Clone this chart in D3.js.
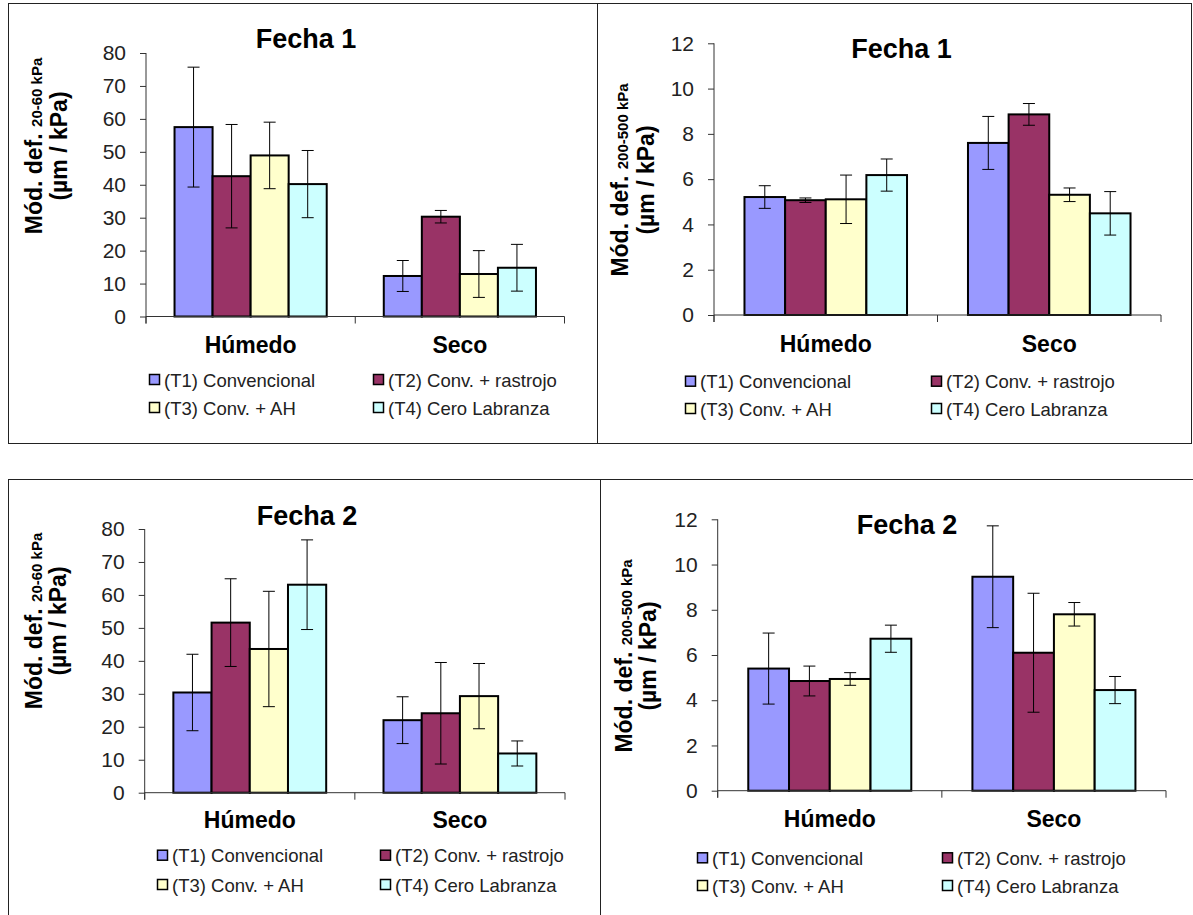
<!DOCTYPE html>
<html>
<head>
<meta charset="utf-8">
<script src="https://cdn.jsdelivr.net/npm/d3@7"></script>
<style>
  body { margin: 0; background: #fff; }
  svg { display: block; font-family: Arial, "Liberation Sans", sans-serif; }
</style>
</head>
<body>
<svg id="chart" width="1193" height="915"></svg>
<script>
// categories
var conditions = ["Húmedo", "Seco"];
var treatments = ["(T1) Convencional", "(T2) Conv. + rastrojo", "(T3) Conv. + AH", "(T4) Cero Labranza"];
var colors = ["#9999ff", "#993366", "#ffffcc", "#ccffff"];

// values [condition][treatment]
var fecha1Low = [[57.5, 42.6, 48.9, 40.2], [12.3, 30.3, 12.9, 14.8]];
var fecha1LowErr = [[18.2, 15.7, 10.1, 10.2], [4.7, 1.9, 7.1, 7.1]];
var fecha1High = [[5.21, 5.07, 5.11, 6.18], [7.6, 8.86, 5.31, 4.49]];
var fecha1HighErr = [[0.5, 0.1, 1.07, 0.71], [1.17, 0.48, 0.3, 0.96]];
var fecha2Low = [[30.4, 51.6, 43.6, 63.1], [22.0, 24.1, 29.3, 11.9]];
var fecha2LowErr = [[11.6, 13.3, 17.5, 13.6], [7.1, 15.4, 9.9, 3.8]];
var fecha2High = [[5.4, 4.85, 4.94, 6.72], [9.46, 6.1, 7.8, 4.45]];
var fecha2HighErr = [[1.57, 0.66, 0.28, 0.6], [2.25, 2.63, 0.52, 0.6]];

// tick labels
var ticksLow = [0, 10, 20, 30, 40, 50, 60, 70, 80];
var ticksHigh = [0, 2, 4, 6, 8, 10, 12];

var panels = [
  { title: "Fecha 1", sub: "20-60 kPa", values: fecha1Low, errors: fecha1LowErr, ticks: ticksLow,
    box: [8, 3, 589, 440], x0: 146, x1: 564.5, y0: 316.5, yTop: 53,
    tx: 306, ty: 48, labCy: 146, labX1: 42, labX2: 67, catY: 353, legX: [149, 373], legY: [380, 408] },
  { title: "Fecha 1", sub: "200-500 kPa", values: fecha1High, errors: fecha1HighErr, ticks: ticksHigh,
    box: [597, 3, 594, 440], x0: 714, x1: 1161, y0: 315, yTop: 43.3,
    tx: 901.5, ty: 58, labCy: 180, labX1: 628, labX2: 654, catY: 352, legX: [685, 931], legY: [381.7, 409] },
  { title: "Fecha 2", sub: "20-60 kPa", values: fecha2Low, errors: fecha2LowErr, ticks: ticksLow,
    box: [8, 479, 592, 460], x0: 144.7, x1: 565, y0: 792.7, yTop: 529,
    tx: 307, ty: 525, labCy: 621, labX1: 42, labX2: 66, catY: 828, legX: [157, 380], legY: [855.7, 885] },
  { title: "Fecha 2", sub: "200-500 kPa", values: fecha2High, errors: fecha2HighErr, ticks: ticksHigh,
    box: [600, 479, 620, 460], x0: 717.7, x1: 1166, y0: 790.7, yTop: 519.3,
    tx: 907, ty: 534, labCy: 656, labX1: 632, labX2: 656, catY: 827, legX: [697, 942], legY: [858.3, 886] }
];

var svg = d3.select("#chart");

panels.forEach(function(p) {
  var g = svg.append("g");

  // frame
  g.append("rect")
    .attr("x", p.box[0] + 0.5).attr("y", p.box[1] + 0.5)
    .attr("width", p.box[2]).attr("height", p.box[3])
    .attr("fill", "none").attr("stroke", "#222").attr("stroke-width", 1);

  // scales
  var x = d3.scaleBand().domain(conditions).range([p.x0, p.x1]);
  var xi = d3.scaleBand().domain(treatments).range([0, x.bandwidth()]).paddingOuter(0.75);
  var y = d3.scaleLinear().domain([0, d3.max(p.ticks)]).range([p.y0, p.yTop]);

  // bars
  var rows = [];
  conditions.forEach(function(c, ci) {
    treatments.forEach(function(t, ti) {
      rows.push({ c: c, t: t, ti: ti, v: p.values[ci][ti], e: p.errors[ci][ti] });
    });
  });

  g.selectAll("rect.bar")
    .data(rows)
    .enter()
      .append("rect")
      .attr("class", "bar")
      .attr("x", d => x(d.c) + xi(d.t))
      .attr("y", d => y(d.v))
      .attr("width", xi.bandwidth())
      .attr("height", d => y(0) - y(d.v))
      .attr("fill", d => colors[d.ti])
      .attr("stroke", "#000")
      .attr("stroke-width", 2);

  // error bars
  var eb = g.selectAll("g.err")
    .data(rows)
    .enter()
      .append("g")
      .attr("class", "err")
      .attr("transform", d => "translate(" + (x(d.c) + xi(d.t) + xi.bandwidth() / 2) + ",0)")
      .attr("stroke", "#000")
      .attr("stroke-width", 1);
  eb.append("line").attr("x1", 0).attr("x2", 0)
    .attr("y1", d => y(d.v + d.e)).attr("y2", d => y(d.v - d.e));
  eb.append("line").attr("x1", -6).attr("x2", 6)
    .attr("y1", d => y(d.v + d.e)).attr("y2", d => y(d.v + d.e));
  eb.append("line").attr("x1", -6).attr("x2", 6)
    .attr("y1", d => y(d.v - d.e)).attr("y2", d => y(d.v - d.e));

  // y axis
  var yAxis = g.append("g")
    .attr("transform", "translate(" + p.x0 + ",0)")
    .call(d3.axisLeft(y).tickValues(p.ticks).tickSize(6).tickPadding(14));
  yAxis.select(".domain").remove();
  yAxis.selectAll("line").attr("stroke", "#333");
  yAxis.selectAll("text")
    .attr("font-size", 21).attr("fill", "#222")
    .attr("font-family", "Arial, 'Liberation Sans', sans-serif");

  // axis lines
  g.append("line")
    .attr("x1", p.x0).attr("x2", p.x0)
    .attr("y1", p.yTop).attr("y2", p.y0 + 7)
    .attr("stroke", "#333");
  g.append("line")
    .attr("x1", p.x0).attr("x2", p.x1)
    .attr("y1", p.y0).attr("y2", p.y0)
    .attr("stroke", "#333");

  // category ticks
  var bounds = [p.x0].concat(conditions.map(c => x(c) + x.bandwidth()));
  g.selectAll("line.ctick")
    .data(bounds)
    .enter()
      .append("line")
      .attr("x1", d => d).attr("x2", d => d)
      .attr("y1", p.y0).attr("y2", p.y0 + 7)
      .attr("stroke", "#333");

  // category labels
  g.selectAll("text.cat")
    .data(conditions)
    .enter()
      .append("text")
      .attr("x", d => x(d) + x.bandwidth() / 2)
      .attr("y", p.catY)
      .attr("text-anchor", "middle")
      .attr("font-size", 23).attr("font-weight", "bold")
      .text(d => d);

  // title
  g.append("text")
    .attr("x", p.tx).attr("y", p.ty)
    .attr("text-anchor", "middle")
    .attr("font-size", 27).attr("font-weight", "bold")
    .text(p.title);

  // y label
  var l1 = g.append("text")
    .attr("transform", "translate(" + p.labX1 + "," + p.labCy + ") rotate(-90)")
    .attr("text-anchor", "middle")
    .attr("font-weight", "bold").attr("font-size", 23);
  l1.append("tspan").text("Mód. def. ");
  l1.append("tspan").attr("font-size", 15).text(p.sub);
  g.append("text")
    .attr("transform", "translate(" + p.labX2 + "," + p.labCy + ") rotate(-90)")
    .attr("text-anchor", "middle")
    .attr("font-weight", "bold").attr("font-size", 23)
    .text("(µm / kPa)");

  // legend
  var leg = g.selectAll("g.leg")
    .data(treatments)
    .enter()
      .append("g")
      .attr("transform", (d, i) => "translate(" + p.legX[i % 2] + "," + p.legY[Math.floor(i / 2)] + ")");
  leg.append("rect")
    .attr("x", 0.5).attr("y", -5.5)
    .attr("width", 10).attr("height", 10)
    .attr("fill", (d, i) => colors[i])
    .attr("stroke", "#000").attr("stroke-width", 1.5);
  leg.append("text")
    .attr("x", 15).attr("y", 6.5)
    .attr("font-size", 18.5).attr("fill", "#222")
    .text(d => d);
});
</script>
</body>
</html>
